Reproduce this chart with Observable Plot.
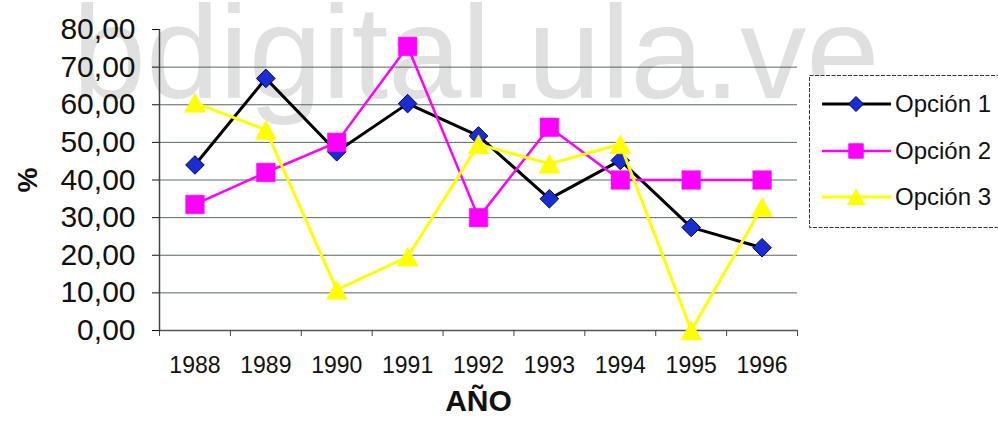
<!DOCTYPE html>
<html>
<head>
<meta charset="utf-8">
<script src="https://cdn.jsdelivr.net/npm/d3@7"></script>
<script src="https://cdn.jsdelivr.net/npm/@observablehq/plot@0.6"></script>
<style>
html, body { margin: 0; padding: 0; background: #fff; }
#chart { position: relative; width: 998px; height: 432px; overflow: hidden; font-family: "Liberation Sans", Arial, sans-serif; }
#chart svg { position: absolute; left: 0; top: 0; }
</style>
</head>
<body>
<div id="chart"></div>
<script>
// ---- data ----
const years = [1988, 1989, 1990, 1991, 1992, 1993, 1994, 1995, 1996];
const opcion1 = [44, 67, 47.5, 60.3, 51.7, 35, 45.2, 27.4, 22];
const opcion2 = [33.5, 42, 50, 75.5, 30, 54, 40, 40, 40];
const opcion3 = [60.5, 53.3, 10.8, 19.6, 49.5, 44.3, 49.5, 0, 32.8];
const seriesNames = ["Opción 1", "Opción 2", "Opción 3"];
const yTicks = [0, 10, 20, 30, 40, 50, 60, 70, 80];
const gridValues = [10, 20, 30, 40, 50, 60, 70];
const xTitle = "AÑO";
const yTitle = "%";
const watermark = "bdigital.ula.ve";

// ---- styles ----
const FONT = "Liberation Sans, Arial, sans-serif";
const colors = ["#000000", "#ff00ff", "#ffff00"];
const lineWidths = [3, 2.5, 3];

// custom symbols (half-extent = sqrt(size/PI) = r)
const diamond = {draw(ctx, size) { const h = Math.sqrt(size / Math.PI); ctx.moveTo(0, -h); ctx.lineTo(h, 0); ctx.lineTo(0, h); ctx.lineTo(-h, 0); ctx.closePath(); }};
const square = {draw(ctx, size) { const h = Math.sqrt(size / Math.PI); ctx.rect(-h, -h, 2 * h, 2 * h); }};
const triangle = {draw(ctx, size) { const h = Math.sqrt(size / Math.PI); const v = h * 0.9; ctx.moveTo(0, -v); ctx.lineTo(h, v); ctx.lineTo(-h, v); ctx.closePath(); }};

const rows = years.map((yr, i) => ({year: yr, o1: opcion1[i], o2: opcion2[i], o3: opcion3[i]}));
const boundaries = years.map(y => y - 0.5).concat([years[years.length - 1] + 0.5]);
const fmt = d => d.toFixed(2).replace(".", ",");

const plot = Plot.plot({
  width: 998,
  height: 432,
  marginLeft: 159,
  marginRight: 201,
  marginTop: 29,
  marginBottom: 102,
  style: {fontFamily: FONT, background: "transparent", overflow: "visible"},
  x: {type: "linear", domain: [boundaries[0], boundaries[boundaries.length - 1]], axis: null},
  y: {domain: [0, 80], axis: null},
  marks: [
    Plot.text([watermark], {text: d => d, frameAnchor: "top-left", dx: 72 - 159, dy: 97 - 29, textAnchor: "start", lineAnchor: "bottom", fontSize: 132, fill: "#e0e0e0", fontFamily: FONT}),
    Plot.ruleY(gridValues, {stroke: "#3e4a4a", strokeWidth: 1, strokeOpacity: 0.85}),
    Plot.ruleY([0], {stroke: "#555", strokeWidth: 1.5}),
    Plot.ruleX([boundaries[0]], {stroke: "#444", strokeWidth: 1.5}),
    Plot.axisY(yTicks, {anchor: "left", tickSize: 7, tickPadding: 17, tickFormat: fmt, fontSize: 30, label: null, color: "#111"}),
    Plot.axisX(boundaries, {anchor: "bottom", tickSize: 6, tickFormat: () => "", label: null, color: "#444"}),
    Plot.axisX(years, {anchor: "bottom", tickSize: 0, tickPadding: 26, tickFormat: d => String(d), fontSize: 23, label: null, color: "#111"}),
    Plot.text([yTitle], {text: d => d, frameAnchor: "left", dx: -131, rotate: -90, textAnchor: "middle", fontSize: 28, fontWeight: "bold", fill: "#111"}),
    Plot.text([xTitle], {text: d => d, frameAnchor: "bottom", dy: 80, textAnchor: "middle", fontSize: 30, fontWeight: "bold", fill: "#111"}),
    Plot.line(rows, {x: "year", y: "o1", stroke: colors[0], strokeWidth: lineWidths[0]}),
    Plot.dot(rows, {x: "year", y: "o1", symbol: diamond, r: 9.3, fill: "#1a2ed0", stroke: "#000060", strokeWidth: 1}),
    Plot.line(rows, {x: "year", y: "o2", stroke: colors[1], strokeWidth: lineWidths[1]}),
    Plot.dot(rows, {x: "year", y: "o2", symbol: square, r: 9.3, fill: colors[1], stroke: colors[1], strokeWidth: 0.5}),
    Plot.line(rows, {x: "year", y: "o3", stroke: colors[2], strokeWidth: lineWidths[2]}),
    Plot.dot(rows, {x: "year", y: "o3", symbol: triangle, r: 10.5, fill: colors[2], stroke: colors[2], strokeWidth: 0.5})
  ]
});
document.getElementById("chart").appendChild(plot);

// ---- legend ----
const legend = d3.select("#chart").append("svg").attr("width", 998).attr("height", 432);
legend.append("rect").attr("x", 809.5).attr("y", 75.5).attr("width", 200).attr("height", 152)
  .attr("fill", "#fff").attr("stroke", "#333").attr("stroke-width", 1).attr("stroke-dasharray", "4 1.5");
const legendSymbols = [
  {sym: diamond, r: 7.5, fill: "#1a2ed0", stroke: "#000060"},
  {sym: square, r: 7.2, fill: colors[1], stroke: colors[1]},
  {sym: triangle, r: 8.5, fill: colors[2], stroke: colors[2]}
];
const rowY = [104, 151, 197];
seriesNames.forEach((name, i) => {
  const g = legend.append("g").attr("transform", `translate(0,${rowY[i]})`);
  g.append("line").attr("x1", 822).attr("x2", 891).attr("y1", 0).attr("y2", 0)
    .attr("stroke", colors[i]).attr("stroke-width", lineWidths[i]);
  const s = legendSymbols[i];
  g.append("path").attr("transform", "translate(856,0)")
    .attr("d", d3.symbol(s.sym, Math.PI * s.r * s.r)())
    .attr("fill", s.fill).attr("stroke", s.stroke).attr("stroke-width", 1);
  g.append("text").attr("x", 895).attr("y", 0).attr("dy", "0.35em")
    .attr("font-family", FONT).attr("font-size", 24).attr("fill", "#111").text(name);
});
</script>
</body>
</html>
